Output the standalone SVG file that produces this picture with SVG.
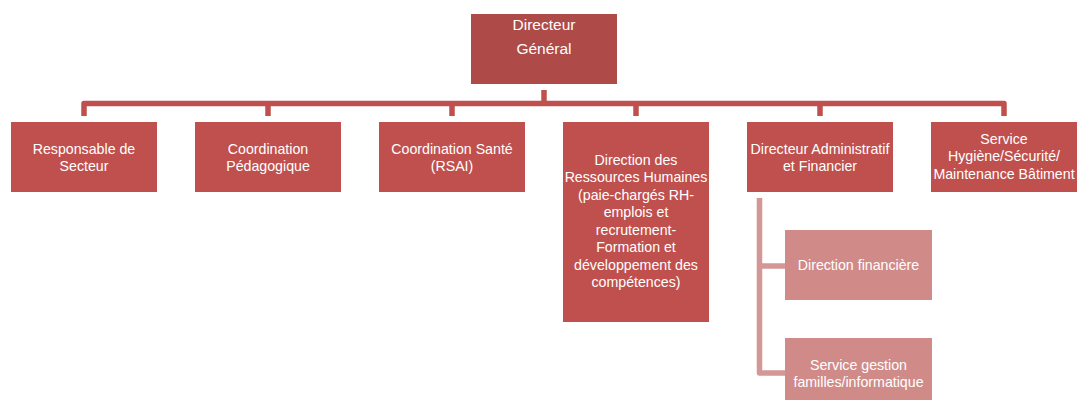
<svg xmlns="http://www.w3.org/2000/svg" width="1081" height="400" viewBox="0 0 1081 400">
<style>
.top{fill:#AE4A47}
.box{fill:#C0504D}
.sub{fill:#D08B89}
text{font-family:"Liberation Sans",Arial,sans-serif;font-size:14.2px;fill:#FFFFFF;text-anchor:middle}
.big{font-size:15.5px}
.c{fill:none;stroke:#C0504D;stroke-width:5.5;stroke-linejoin:round}
.cs{fill:none;stroke:#D49796;stroke-width:5.5;stroke-linejoin:round}
</style>
<rect width="1081" height="400" fill="#FFFFFF"/>
<g id="connectors">
<path class="c" d="M544,90 V103.5"/>
<path class="c" d="M84,116 V103.5 H1004 V116"/>
<path class="c" d="M268,103.5 V116 M452,103.5 V116 M636,103.5 V116 M820,103.5 V116"/>
<path class="cs" d="M759.5,198 V373 H785 M759.5,266 H785"/>
</g>
<g id="n0"><rect class="top" x="471" y="14" width="146" height="70"/>
<text class="big" x="544" y="30">Directeur</text><text class="big" x="544" y="54">Général</text></g>
<g id="n1"><rect class="box" x="11" y="122" width="146" height="70"/>
<text x="84" y="154">Responsable de</text><text x="84" y="171">Secteur</text></g>
<g id="n2"><rect class="box" x="195" y="122" width="146" height="70"/>
<text x="268" y="154">Coordination</text><text x="268" y="171">Pédagogique</text></g>
<g id="n3"><rect class="box" x="379" y="122" width="146" height="70"/>
<text x="452" y="154">Coordination Santé</text><text x="452" y="171">(RSAI)</text></g>
<g id="n4"><rect class="box" x="563" y="122" width="146" height="200"/>
<text x="636" y="164.5">Direction des</text>
<text x="636" y="182">Ressources Humaines</text>
<text x="636" y="199.5">(paie-chargés RH-</text>
<text x="636" y="217">emplois et</text>
<text x="636" y="234.5">recrutement-</text>
<text x="636" y="252">Formation et</text>
<text x="636" y="269.5">développement des</text>
<text x="636" y="287">compétences)</text></g>
<g id="n5"><rect class="box" x="747" y="122" width="146" height="70"/>
<text x="820" y="154">Directeur Administratif</text><text x="820" y="171">et Financier</text></g>
<g id="n6"><rect class="box" x="931" y="122" width="146" height="70"/>
<text x="1004" y="144">Service</text><text x="1004" y="161">Hygiène/Sécurité/</text><text x="1004" y="179">Maintenance Bâtiment</text></g>
<g id="n7"><rect class="sub" x="785" y="230" width="147" height="70"/>
<text x="858.5" y="270">Direction financière</text></g>
<g id="n8"><rect class="sub" x="785" y="338" width="147" height="71"/>
<text x="858.5" y="369.5">Service gestion</text><text x="858.5" y="386.5">familles/informatique</text></g>
</svg>
